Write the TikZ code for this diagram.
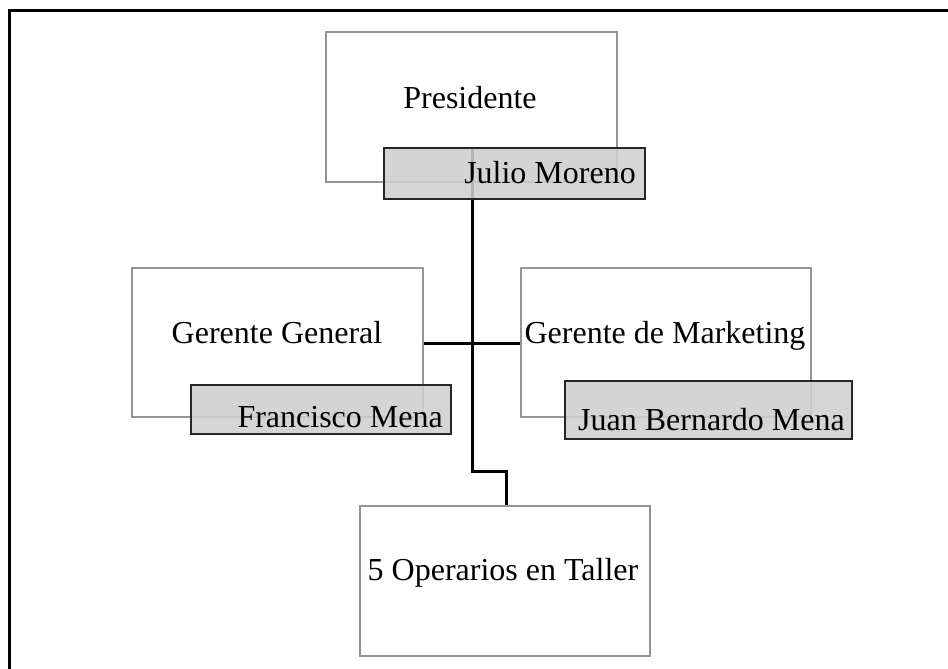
\documentclass[tikz,border=0pt]{standalone}
\usepackage{fontspec}
\setmainfont{Liberation Serif}
\begin{document}
\begin{tikzpicture}[x=1pt,y=-1pt,
  whitebox/.style={draw=black!42,line width=1.1pt,fill=white,minimum width=#1,inner sep=0pt},
  graybox/.style={draw=black!85,line width=1.5pt,fill=black!19,fill opacity=0.88,minimum width=#1,inner sep=0pt},
  lbl/.style={font=\fontsize{32}{38}\selectfont,inner sep=0pt,text=black},
  link/.style={draw=black,line width=3pt}]
\useasboundingbox (0,0) rectangle (948,669);
% outer frame (only top and left visible)
\draw[line width=3pt,black] (9.5,669) -- (9.5,10.5) -- (948,10.5);
% white boxes
\node[whitebox=291pt,minimum height=150pt] (pres) at (471.5,107) {};
\node[whitebox=291pt,minimum height=149pt] (gg) at (277.5,342.5) {};
\node[whitebox=290pt,minimum height=149pt] (gm) at (666,342.5) {};
\node[whitebox=290pt,minimum height=150pt] (op) at (505,581) {};
% connectors
\coordinate (trunk) at (472,343);
\coordinate (bend) at (472,471);
\coordinate (bend2) at (506,471);
\node[graybox=261pt,minimum height=51pt,fill opacity=0,draw opacity=0] (julioghost) at (514.5,173.5) {};
\draw[link] (trunk |- julioghost.north) -- (bend) -- (bend2) -- (bend2 |- op.north);
\draw[link] (gg.east |- trunk) -- (gm.west |- trunk);
% gray name boxes
\node[graybox=261pt,minimum height=51pt] (julio) at (514.5,173.5) {};
\node[graybox=260pt,minimum height=49pt] (fm) at (321,409.5) {};
\node[graybox=287pt,minimum height=58pt] (jbm) at (708.5,410) {};
% labels
\node[lbl,anchor=base] (tpres) at (470,108) {Presidente};
\node[lbl,anchor=base east] (tjulio) at (636,183) {Julio Moreno};
\node[lbl,anchor=base] (tgg) at (277,343) {Gerente General};
\node[lbl,anchor=base east] (tfm) at (443,427) {Francisco Mena};
\node[lbl,anchor=base] (tgm) at (665,343) {Gerente de Marketing};
\node[lbl,anchor=base west] (tjbm) at (578,430) {Juan Bernardo Mena};
\node[lbl,anchor=base] (top) at (503,580) {5 Operarios en Taller};
\end{tikzpicture}
\end{document}
